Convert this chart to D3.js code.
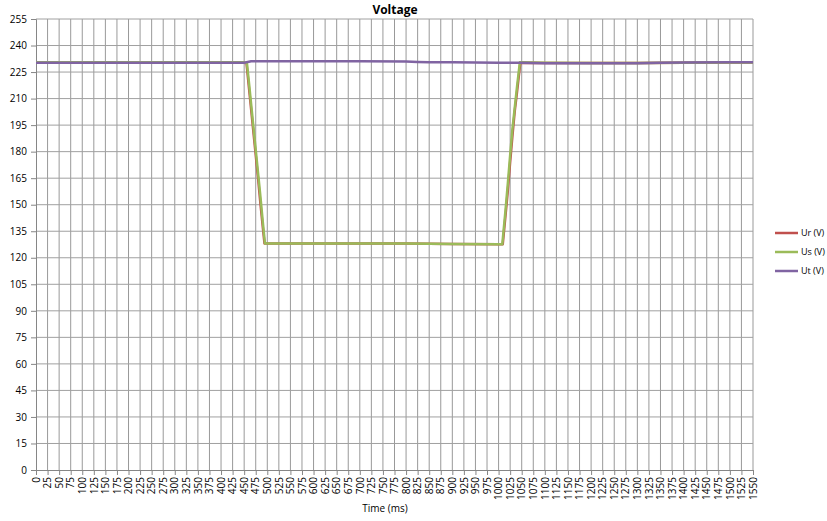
<!DOCTYPE html>
<html><head><meta charset="utf-8">
<script src="https://cdn.jsdelivr.net/npm/d3@7"></script>
<style>body{margin:0;background:#fff;} text{font-family:"Open Sans","Liberation Sans",sans-serif;}</style>
</head><body><svg id="c" width="827" height="521"></svg>
<script>
const title = "Voltage";
const xLabel = "Time (ms)";
const seriesNames = ["Ur (V)", "Us (V)", "Ut (V)"];
const colors = ["#C0504D", "#9BBB59", "#8064A2"];
const yTicks = d3.range(0, 256, 15);
const xTicks = d3.range(0, 1551, 25);

// Ur (V)
const urTime = [0,100,200,300,400,450,455,460,465,470,475,480,485,490,494,500,600,700,800,900,1000,1009,1015,1020,1025,1030,1035,1040,1047,1100,1200,1300,1400,1500,1550];
const urVal  = [230.3,230.3,230.3,230.3,230.3,230.3,230,217,204,191,178,165,151,138,128,128,128,128,128,127.8,127.6,127.6,144,158,174,189,203,214,230.3,230.1,230.1,230.1,230.3,230.4,230.4];
// Us (V)
const usTime = [0,100,200,300,400,450,456,460,465,470,475,480,485,490,495,500,600,700,800,900,1000,1008,1015,1020,1025,1030,1035,1040,1046,1100,1200,1300,1400,1500,1550];
const usVal  = [230.5,230.5,230.5,230.5,230.5,230.5,230,220,207,194,181,168,155,141,128,128,128,128,128,127.8,127.6,127.6,147,162,178,193,205,217,230.5,230.2,230.1,230.1,230.3,230.4,230.4];
// Ut (V)
const utTime = [0,100,200,300,400,450,465,500,600,700,800,825,850,900,1000,1050,1100,1200,1300,1350,1400,1500,1550];
const utVal  = [230.3,230.3,230.3,230.3,230.3,230.3,231.1,231.1,231.1,231.1,231.0,230.7,230.5,230.5,230.3,230.2,230.0,230.0,230.0,230.3,230.4,230.5,230.5];

const series = [
  {name: seriesNames[0], color: colors[0], pts: urTime.map((t,i)=>[t,urVal[i]])},
  {name: seriesNames[1], color: colors[1], pts: usTime.map((t,i)=>[t,usVal[i]])},
  {name: seriesNames[2], color: colors[2], pts: utTime.map((t,i)=>[t,utVal[i]])}
];

const svg = d3.select("#c");
const x = d3.scaleLinear().domain([0,1550]).range([36,753]);
const y = d3.scaleLinear().domain([0,255]).range([470,19]);

// gridlines
svg.append("g").selectAll("line").data(xTicks.slice(1)).join("line")
  .attr("x1",d=>x(d)).attr("x2",d=>x(d)).attr("y1",y(0)).attr("y2",y(255))
  .attr("stroke","#999").attr("stroke-width",1);
svg.append("g").selectAll("line").data(yTicks.slice(1)).join("line")
  .attr("x1",x(0)).attr("x2",x(1550)).attr("y1",d=>y(d)).attr("y2",d=>y(d))
  .attr("stroke","#a0a0a0").attr("stroke-width",1);

// axes
const yAxis = svg.append("g").attr("transform",`translate(${x(0)},0)`)
  .call(d3.axisLeft(y).tickValues(yTicks).tickSize(5).tickPadding(4));
const xAxis = svg.append("g").attr("transform",`translate(0,${y(0)})`)
  .call(d3.axisBottom(x).tickValues(xTicks).tickSize(5).tickFormat(d3.format("d")));
[yAxis,xAxis].forEach(a=>{
  a.selectAll("path").attr("stroke","#868686");
  a.selectAll("line").attr("stroke","#868686");
  a.selectAll("text").attr("fill","#000").style("font-size","10px").style("font-family","'Open Sans','Liberation Sans',sans-serif");
});
xAxis.selectAll("text")
  .attr("transform","rotate(-90)")
  .attr("text-anchor","end")
  .attr("x",-7).attr("y",0).attr("dy","0.32em");

// lines
const line = d3.line().x(d=>x(d[0])).y(d=>y(d[1]));
series.forEach(s=>{
  svg.append("path").datum(s.pts).attr("d",line)
    .attr("fill","none").attr("stroke",s.color).attr("stroke-width",2.5)
    .attr("stroke-linejoin","round");
});

// title
svg.append("text").attr("x",395).attr("y",14).attr("text-anchor","middle")
  .style("font-size","12px").style("font-weight","bold").text(title);
// x label
svg.append("text").attr("x",385).attr("y",512).attr("text-anchor","middle")
  .style("font-size","10px").text(xLabel);

// legend
const leg = svg.append("g");
series.forEach((s,i)=>{
  const ly = 233 + i*19;
  leg.append("line").attr("x1",775).attr("x2",798).attr("y1",ly).attr("y2",ly)
    .attr("stroke",s.color).attr("stroke-width",2.5);
  leg.append("text").attr("x",801).attr("y",ly).attr("dy","0.35em")
    .style("font-size","9px").text(s.name);
});
</script></body></html>
